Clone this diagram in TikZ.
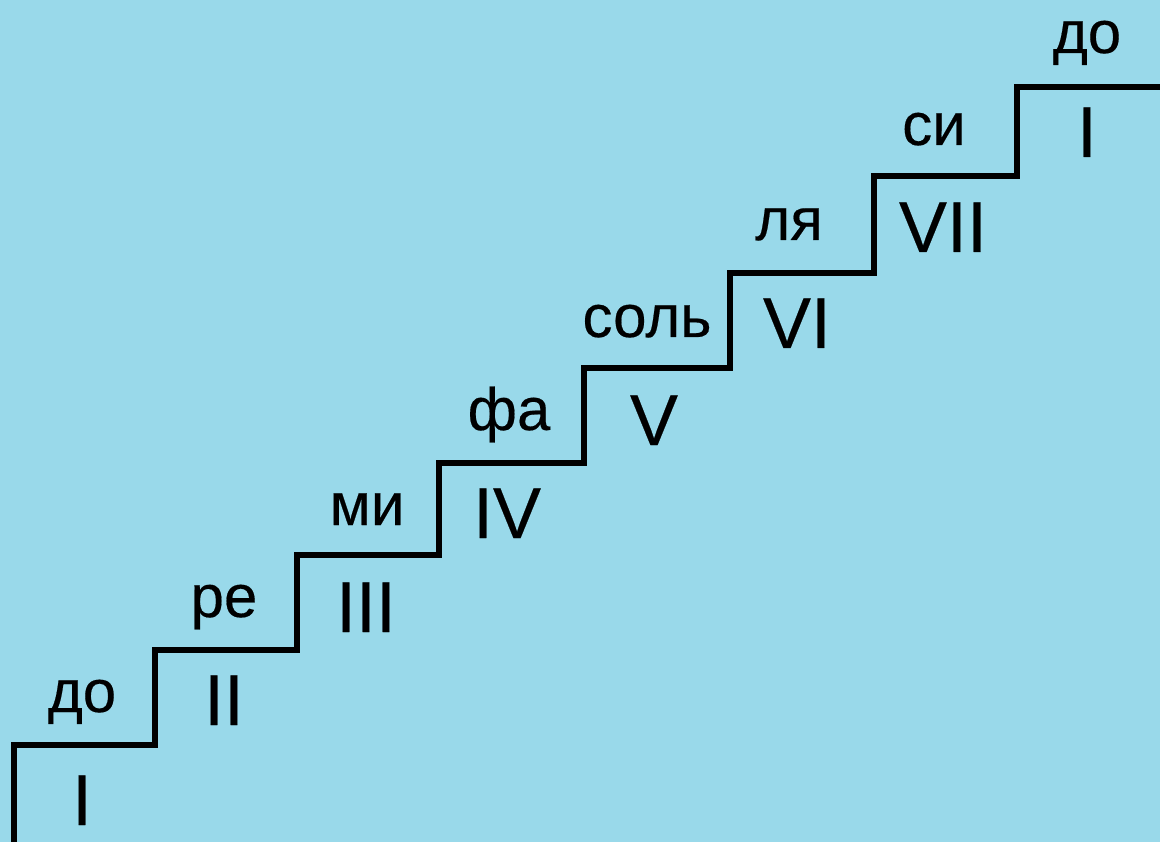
\documentclass[tikz,border=0pt]{standalone}
\usepackage{fontspec}
\setmainfont{Liberation Sans}
\newfontfamily\stepfont{Liberation Sans}[FakeBold=0.3]
\definecolor{bgblue}{HTML}{99D9EA}
\tikzset{
  note/.style={anchor=base, inner sep=0pt, font=\stepfont\fontsize{60}{60}\selectfont},
  degree/.style={anchor=base, inner sep=0pt, font=\stepfont\fontsize{72}{72}\selectfont},
  stair/.style={line width=6pt, line join=miter, draw=black}
}
\begin{document}
\begin{tikzpicture}[x=1pt,y=-1pt]
\fill[bgblue] (0,0) rectangle (1160,842);
\useasboundingbox (0,0) rectangle (1160,842);
\draw[stair] (14,850) -- (14,745) -- (155,745) -- (155,650) -- (297,650) -- (297,555)
  -- (439,555) -- (439,463) -- (584,463) -- (584,368) -- (730,368) -- (730,273)
  -- (874,273) -- (874,176) -- (1017,176) -- (1017,87) -- (1170,87);
\node[note] (do1) at (82,712) {до};
\node[degree] (d1) at (82,825) {I};
\node[note] (re) at (224,617) {ре};
\node[degree] (d2) at (224,725) {II};
\node[note] (mi) at (367,525) {ми};
\node[degree] (d3) at (366,632) {III};
\node[note] (fa) at (509,430) {фа};
\node[degree] (d4) at (507,538) {IV};
\node[note] (sol) at (647,337) {соль};
\node[degree] (d5) at (654,445) {V};
\node[note] (la) at (789,240) {ля};
\node[degree] (d6) at (797,348) {VI};
\node[note] (si) at (934,145) {си};
\node[degree] (d7) at (943,252) {VII};
\node[note] (do2) at (1087,53) {до};
\node[degree] (d8) at (1087,157) {I};
\end{tikzpicture}
\end{document}
